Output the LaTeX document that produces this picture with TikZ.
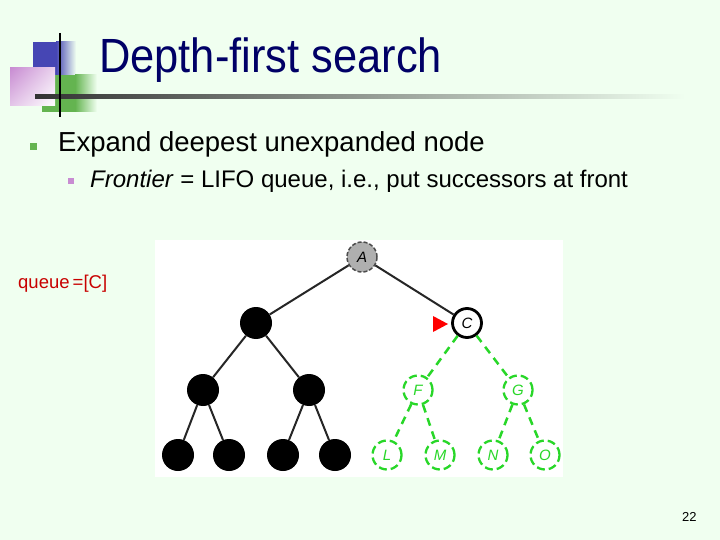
\documentclass[tikz,border=0pt]{standalone}
\usepackage{fontspec}
\usetikzlibrary{shadings}
\setmainfont{Liberation Sans}
\setsansfont{Liberation Sans}
\definecolor{bg}{RGB}{240,255,240}
\definecolor{navy}{RGB}{0,0,102}
\definecolor{sqblue}{RGB}{70,70,180}
\definecolor{sqgreen}{RGB}{100,180,80}
\definecolor{sqpink}{RGB}{200,140,210}
\definecolor{gnode}{RGB}{40,215,40}
\definecolor{qred}{RGB}{200,0,0}
\definecolor{agray}{RGB}{175,175,175}
\tikzset{
  x=1pt, y=-1pt,
  blk/.style={circle, fill=black, minimum size=32pt, inner sep=0pt},
  gnd/.style={circle, draw=gnode, line width=2.3pt, dash pattern=on 8pt off 4pt, fill=white, minimum size=29pt, inner sep=0pt, text=gnode, font=\fontsize{15}{15}\selectfont\sffamily\itshape},
  tedge/.style={draw=black!85, line width=2pt},
  gedge/.style={draw=gnode, line width=2.5pt, dash pattern=on 8pt off 6pt},
  txt/.style={inner sep=0pt, anchor=base west}
}
\begin{document}
\begin{tikzpicture}
\useasboundingbox (0,0) rectangle (720,540);
\fill[bg] (0,0) rectangle (720,540);
% decorative squares
\fill[sqblue] (33,42) rectangle (56,75);
\shade[left color=sqblue, right color=bg] (56,42) rectangle (76,75);
\fill[sqgreen] (42,75) rectangle (75,112);
\shade[left color=sqgreen, right color=bg] (75,75) rectangle (97,112);
\shade[upper left=sqpink, lower right=white, upper right=sqpink!40!white, lower left=sqpink!50!white] (10,68) rectangle (55,106);
\shade[left color=black!80, right color=bg] (35,95) rectangle (685,99);
\draw[black, line width=2pt] (60,33) -- (60,117);
% title
\node[txt, text=navy, font=\fontsize{48}{48}\selectfont] (title) at (99,73) {\scalebox{0.905}[1]{Depth-first search}};
% bullets
\fill[sqgreen] (30,143) rectangle (37,150);
\node[txt, font=\fontsize{27.5}{27.5}\selectfont] (b1) at (58,152) {Expand deepest unexpanded node};
\fill[sqpink] (68,178) rectangle (74,184);
\node[txt, font=\fontsize{24}{24}\selectfont] (b2) at (90,188) {\textit{Frontier} = LIFO queue, i.e., put successors at front};
\node[txt, text=qred, font=\fontsize{18.5}{18.5}\selectfont] (q) at (18,288) {queue\,=[C]};
% tree panel
\fill[white] (155,240) rectangle (563,477);
\node[circle, fill=agray, draw=black!70, line width=1.5pt, dash pattern=on 4pt off 2pt, minimum size=30pt, inner sep=0pt, font=\fontsize{15}{15}\selectfont\sffamily\itshape] (A) at (362,257) {A};
\node[blk] (B) at (256,323) {};
\node[circle, fill=white, draw=black, line width=2.8pt, minimum size=29pt, inner sep=0pt, font=\fontsize{15}{15}\selectfont\sffamily\itshape] (C) at (467,323) {C};
\node[blk] (D) at (203,390) {};
\node[blk] (E) at (309,390) {};
\node[gnd] (F) at (418,390) {F};
\node[gnd] (G) at (518,390) {G};
\node[blk] (H) at (178,455) {};
\node[blk] (I) at (229,455) {};
\node[blk] (J) at (283,455) {};
\node[blk] (K) at (335,455) {};
\node[gnd] (L) at (387,455) {L};
\node[gnd] (M) at (440,455) {M};
\node[gnd] (N) at (493,455) {N};
\node[gnd] (O) at (545,455) {O};
\draw[tedge] (A) -- (B);
\draw[tedge] (A) -- (C);
\draw[tedge] (B) -- (D);
\draw[tedge] (B) -- (E);
\draw[tedge] (D) -- (H);
\draw[tedge] (D) -- (I);
\draw[tedge] (E) -- (J);
\draw[tedge] (E) -- (K);
\draw[gedge] (C) -- (F);
\draw[gedge] (C) -- (G);
\draw[gedge] (F) -- (L);
\draw[gedge] (F) -- (M);
\draw[gedge] (G) -- (N);
\draw[gedge] (G) -- (O);
% red pointer
\coordinate (tip) at (448,324);
\fill[red] (tip) -- (433,316) -- (433,332) -- cycle;
% page number
\node[txt, font=\fontsize{13}{13}\selectfont] (pg) at (682,521) {22};
\end{tikzpicture}
\end{document}
